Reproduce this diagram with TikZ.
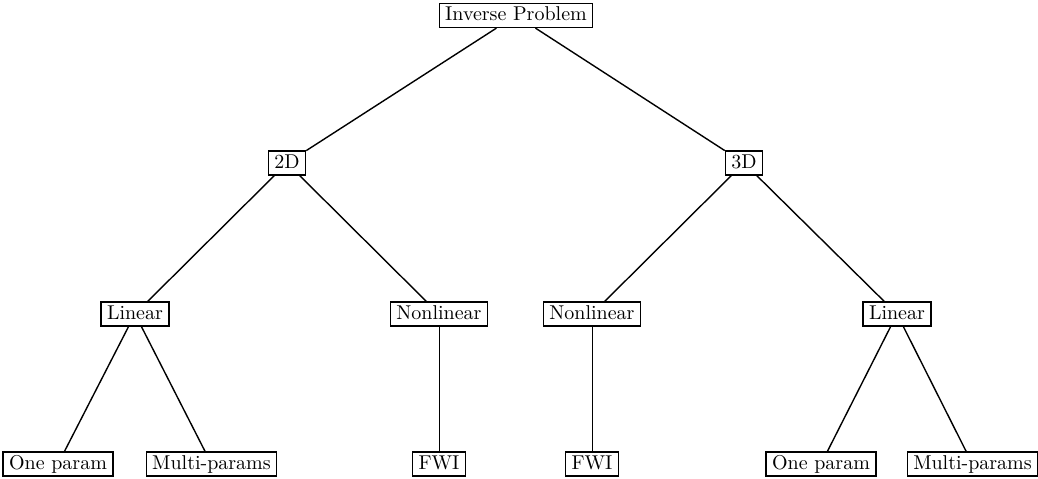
\documentclass[tikz,border=0pt]{standalone}
\usepackage{tikz}
\usetikzlibrary{positioning}

\begin{document}
\begin{tikzpicture}[on grid,
  box/.style={
    rectangle, draw=black, line width=0.6pt,
    inner xsep=3pt, inner ysep=1.5pt,
    text height=7pt, text depth=2pt
  },
  edge/.style={line width=0.7pt},
  thin edge/.style={line width=0.4pt}
]
  \useasboundingbox (0pt,0pt) rectangle (519pt,-239pt);

  \node[box] (ip) at (258pt,-7.75pt) {Inverse Problem};
  \node[box, below left=73.75pt and 114.5pt of ip] (td) {2D};
  \node[box, below right=73.75pt and 114pt of ip] (thd) {3D};

  \node[box, below left=75.5pt and 76pt of td] (lin2) {Linear};
  \node[box, below right=75.5pt and 76pt of td] (nl2) {Nonlinear};
  \node[box, below left=75.5pt and 76pt of thd] (nl3) {Nonlinear};
  \node[box, below right=75.5pt and 76.5pt of thd] (lin3) {Linear};

  \node[box, below left=75pt and 38.5pt of lin2] (one2) {One param};
  \node[box, below right=75pt and 38.25pt of lin2] (multi2) {Multi-params};
  \node[box, below=75pt of nl2] (fwi2) {FWI};
  \node[box, below=75pt of nl3] (fwi3) {FWI};
  \node[box, below left=75pt and 38pt of lin3] (one3) {One param};
  \node[box, below right=75pt and 37.75pt of lin3] (multi3) {Multi-params};

  \draw[edge] (ip) -- (td);
  \draw[edge] (ip) -- (thd);
  \draw[edge] (td) -- (lin2);
  \draw[edge] (td) -- (nl2);
  \draw[edge] (thd) -- (nl3);
  \draw[edge] (thd) -- (lin3);
  \draw[edge] (lin2) -- (one2);
  \draw[edge] (lin2) -- (multi2);
  \draw[thin edge] (nl2) -- (fwi2);
  \draw[thin edge] (nl3) -- (fwi3);
  \draw[edge] (lin3) -- (one3);
  \draw[edge] (lin3) -- (multi3);
\end{tikzpicture}
\end{document}
